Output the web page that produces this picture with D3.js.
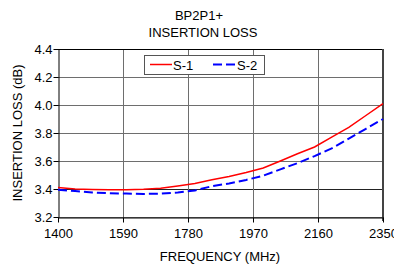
<!DOCTYPE html>
<html>
<head>
<meta charset="utf-8">
<script src="https://cdn.jsdelivr.net/npm/d3@7"></script>
<style>
  body { margin: 0; background: #fff; }
  svg { display: block; font-family: Arial, "Liberation Sans", sans-serif; }
</style>
</head>
<body>
<svg id="chart"></svg>
<script>
// chart data
const freqs = [1400, 1450, 1500, 1550, 1600, 1650, 1700, 1750, 1800, 1850, 1900, 1950, 2000, 2050, 2100, 2150, 2200, 2250, 2300, 2350];
const s1 = [3.41, 3.40, 3.397, 3.395, 3.395, 3.398, 3.405, 3.422, 3.44, 3.466, 3.49, 3.518, 3.55, 3.60, 3.652, 3.70, 3.77, 3.84, 3.925, 4.01];
const s2 = [3.395, 3.385, 3.375, 3.37, 3.367, 3.365, 3.367, 3.375, 3.39, 3.42, 3.44, 3.465, 3.495, 3.54, 3.585, 3.635, 3.69, 3.76, 3.83, 3.90];
const xTicks = [1400, 1590, 1780, 1970, 2160, 2350];
const yTicks = [3.2, 3.4, 3.6, 3.8, 4.0, 4.2, 4.4];
const seriesNames = ["S-1", "S-2"];

const width = 394, height = 265;
const margin = { top: 49, right: 11, bottom: 48, left: 58 };
const w = width - margin.left - margin.right;
const h = height - margin.top - margin.bottom;
const fs = '13px';

const svg = d3.select('#chart').attr('width', width).attr('height', height);
const chart = svg.append('g').attr('transform', `translate(${margin.left},${margin.top})`);

const x = d3.scaleLinear().domain([1400, 2350]).range([0, w]);
const y = d3.scaleLinear().domain([3.2, 4.4]).range([h, 0]);

// grid
chart.append('g').selectAll('line.h').data(yTicks).join('line')
  .attr('x1', 0).attr('x2', w)
  .attr('y1', d => Math.round(y(d)) + 0.5).attr('y2', d => Math.round(y(d)) + 0.5)
  .attr('stroke', d => d === 3.4 ? '#222' : '#6e6e6e').attr('stroke-width', 1);
chart.append('g').selectAll('line.v').data(xTicks.slice(1, -1)).join('line')
  .attr('x1', d => Math.round(x(d)) + 0.5).attr('x2', d => Math.round(x(d)) + 0.5)
  .attr('y1', 0).attr('y2', h)
  .attr('stroke', '#6e6e6e').attr('stroke-width', 1);

// frame
chart.append('line').attr('x1', 0).attr('x2', w).attr('y1', 0.5).attr('y2', 0.5).attr('stroke', '#000');
chart.append('line').attr('x1', w).attr('x2', w).attr('y1', 0).attr('y2', h + 4).attr('stroke', '#444').attr('stroke-width', 2);

// axes
const xAxis = chart.append('g').attr('transform', `translate(0,${h + 0.5})`)
  .call(d3.axisBottom(x).tickValues(xTicks).tickFormat(d3.format('d')).tickSize(5).tickSizeOuter(0));
const yAxis = chart.append('g').attr('transform', 'translate(0.5,0)')
  .call(d3.axisLeft(y).tickValues(yTicks).tickFormat(d3.format('.1f')).tickSize(5).tickSizeOuter(0));
[xAxis, yAxis].forEach(a => {
  a.select('.domain').attr('stroke', '#000');
  a.selectAll('.tick line').attr('stroke', '#000');
  a.selectAll('text').attr('fill', '#000').style('font-size', fs)
    .style('font-family', 'Arial, "Liberation Sans", sans-serif');
});
xAxis.selectAll('text').attr('dy', '0.9em').attr('y', 9);
yAxis.selectAll('text').attr('x', -6);

// lines
const line = d3.line().x(d => x(d[0])).y(d => y(d[1]));
chart.append('path').datum(freqs.map((f, i) => [f, s1[i]]))
  .attr('d', line).attr('fill', 'none').attr('stroke', '#ff0000').attr('stroke-width', 1.5);
chart.append('path').datum(freqs.map((f, i) => [f, s2[i]]))
  .attr('d', line).attr('fill', 'none').attr('stroke', '#0000ff').attr('stroke-width', 2)
  .attr('stroke-dasharray', '9,4');

// legend
const lg = svg.append('g').attr('transform', 'translate(144,55)');
lg.append('rect').attr('x', 0.5).attr('y', 0.5).attr('width', 120).attr('height', 19)
  .attr('fill', '#fff').attr('stroke', '#555');
lg.append('line').attr('x1', 6).attr('x2', 28).attr('y1', 9.5).attr('y2', 9.5)
  .attr('stroke', '#ff0000').attr('stroke-width', 1.5);
lg.append('line').attr('x1', 69).attr('x2', 92).attr('y1', 9.5).attr('y2', 9.5)
  .attr('stroke', '#0000ff').attr('stroke-width', 2).attr('stroke-dasharray', '9,4');
lg.selectAll('text.leg').data(seriesNames).join('text')
  .attr('x', (d, i) => i === 0 ? 29 : 93).attr('y', 14.5)
  .style('font-size', fs).text(d => d);

// titles
svg.append('text').attr('x', 199).attr('y', 20).attr('text-anchor', 'middle')
  .style('font-size', fs).text('BP2P1+');
svg.append('text').attr('x', 203).attr('y', 37).attr('text-anchor', 'middle')
  .style('font-size', fs).text('INSERTION LOSS');
svg.append('text').attr('x', 220).attr('y', 261).attr('text-anchor', 'middle')
  .style('font-size', fs).text('FREQUENCY (MHz)');
svg.append('text').attr('transform', `translate(22,${margin.top + h / 2}) rotate(-90)`)
  .attr('text-anchor', 'middle').style('font-size', fs).text('INSERTION LOSS (dB)');
</script>
</body>
</html>
